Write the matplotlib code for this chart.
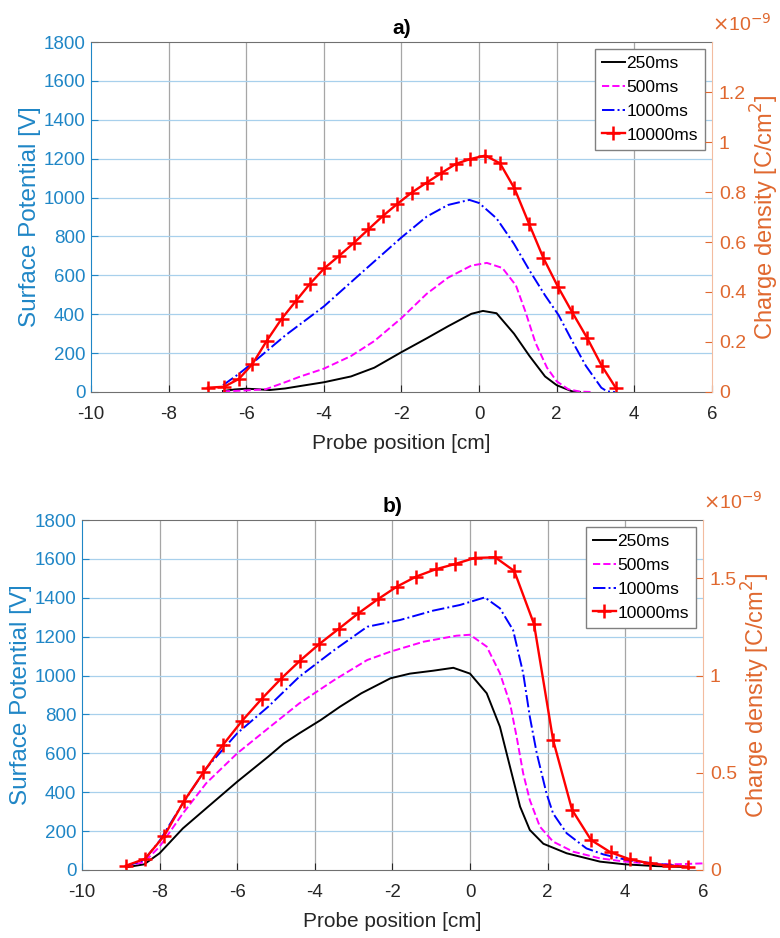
import matplotlib
matplotlib.use("Agg")
import matplotlib.pyplot as plt
from matplotlib.ticker import FixedLocator, FuncFormatter

plt.rcParams['font.family'] = ['Liberation Sans', 'DejaVu Sans']
plt.rcParams['axes.unicode_minus'] = False

# ---- panel a) ----
x_a_250 = [-6.6, -6.3, -6.0, -5.7, -5.4, -5.0, -4.6, -4.0, -3.3, -2.7, -2.0, -1.35,
           -0.8, -0.2, 0.1, 0.45, 0.9, 1.3, 1.7, 2.0, 2.4, 2.6]
y_a_250 = [5, 13, 17, 14, 10, 18, 31, 50, 80, 125, 205, 276,
           338, 402, 417, 405, 300, 185, 80, 35, 3, 0]

x_a_500 = [-6.6, -6.0, -5.5, -5.0, -4.6, -4.0, -3.3, -2.7, -2.0, -1.35, -0.8, -0.2,
           0.2, 0.6, 0.95, 1.2, 1.45, 1.75, 2.0, 2.3, 2.6, 2.9]
y_a_500 = [3, 8, 14, 50, 80, 120, 185, 262, 380, 505, 588, 650,
           664, 638, 548, 410, 255, 125, 55, 14, 2, 0]

x_a_1000 = [-6.6, -6.2, -5.85, -5.0, -4.0, -2.9, -2.0, -1.35, -0.8, -0.25, 0.0, 0.45,
            0.9, 1.3, 1.7, 2.05, 2.4, 2.75, 3.15, 3.3, 3.5]
y_a_1000 = [35, 92, 147, 290, 440, 636, 795, 902, 962, 988, 972, 893,
            762, 625, 497, 395, 262, 135, 22, 3, 0]

x_a_10000 = [-6.99, -6.57, -6.19, -5.84, -5.47, -5.09, -4.72, -4.36, -3.99, -3.61,
             -3.22, -2.85, -2.47, -2.11, -1.74, -1.35, -0.98, -0.60, -0.23, 0.16,
             0.54, 0.91, 1.29, 1.66, 2.03, 2.40, 2.79, 3.16, 3.53]
y_a_10000 = [22, 27, 67, 144, 264, 376, 468, 556, 636, 700,
             768, 837, 907, 967, 1025, 1077, 1125, 1173, 1198, 1216,
             1176, 1048, 864, 688, 542, 410, 276, 135, 19]

# ---- panel b) ----
x_b_250 = [-8.87, -8.4, -8.0, -7.4, -6.8, -6.0, -5.2, -4.8, -4.4, -3.85, -3.35, -2.8,
           -2.05, -1.55, -0.95, -0.43, 0.0, 0.43, 0.77, 1.03, 1.29, 1.54, 1.89, 2.49,
           3.35, 4.0, 4.8, 5.6]
y_b_250 = [14, 29, 86, 214, 317, 454, 583, 651, 703, 771, 840, 909,
           986, 1010, 1025, 1040, 1010, 909, 737, 531, 326, 206, 135, 86,
           43, 29, 20, 15]

x_b_500 = [-8.87, -8.4, -8.0, -7.4, -6.8, -6.0, -5.2, -4.4, -3.5, -2.65, -2.05, -1.2,
           -0.35, 0.0, 0.43, 0.77, 1.03, 1.2, 1.37, 1.54, 1.8, 2.14, 2.66, 3.35,
           4.0, 4.8, 5.4, 6.0]
y_b_500 = [20, 40, 120, 291, 446, 600, 729, 857, 977, 1080, 1123, 1174,
           1205, 1210, 1149, 1012, 857, 686, 497, 360, 223, 146, 94, 60,
           43, 30, 30, 34]

x_b_1000 = [-8.87, -8.4, -8.0, -7.4, -6.8, -6.0, -5.2, -4.4, -3.5, -2.65, -1.8, -0.95,
            -0.26, 0.38, 0.77, 1.11, 1.37, 1.54, 1.72, 1.97, 2.14, 2.49, 3.0, 3.44,
            4.12, 4.98, 5.67]
y_b_1000 = [20, 50, 150, 343, 523, 703, 840, 994, 1131, 1251, 1286, 1334,
            1363, 1402, 1346, 1234, 1012, 789, 600, 394, 291, 189, 111, 80,
            48, 29, 15]

x_b_10000 = [-8.87, -8.38, -7.88, -7.37, -6.87, -6.37, -5.87, -5.37, -4.87, -4.38,
             -3.88, -3.38, -2.88, -2.38, -1.89, -1.39, -0.88, -0.38, 0.12, 0.65,
             1.14, 1.65, 2.14, 2.63, 3.12, 3.62, 4.12, 4.63, 5.12, 5.62]
y_b_10000 = [22, 57, 176, 355, 502, 643, 768, 880, 984, 1077,
             1163, 1241, 1320, 1392, 1457, 1509, 1547, 1574, 1605, 1608,
             1538, 1264, 669, 309, 154, 91, 55, 34, 22, 17]

series_labels = ['250ms', '500ms', '1000ms', '10000ms']
x_ticks = [-10, -8, -6, -4, -2, 0, 2, 4, 6]
y_ticks = [0, 200, 400, 600, 800, 1000, 1200, 1400, 1600, 1800]
charge_ticks_a = [0, 0.2e-9, 0.4e-9, 0.6e-9, 0.8e-9, 1.0e-9, 1.2e-9]
charge_ticks_b = [0, 0.5e-9, 1.0e-9, 1.5e-9]
charge_max_a = 1.4e-9
charge_max_b = 1.8e-9

BLUE = '#1f86c6'
ORANGE = '#e0682f'
DARK = '#262626'
HGRID = '#a8d0ec'
VGRID = '#a6a6a6'

fig = plt.figure(figsize=(7.8, 9.38), dpi=100)


def draw_panel(rect, title, xs, ys, cticks, cmax):
    ax = fig.add_axes(rect)
    styles = [dict(color='black', ls='-', lw=1.4),
              dict(color='#ff00ff', ls='--', lw=1.4),
              dict(color='#0000ff', ls='-.', lw=1.4),
              dict(color='#ff0000', ls='-', lw=1.7, marker='+', ms=10, mew=1.8)]
    for x, y, st, lab in zip(xs, ys, styles, series_labels):
        ax.plot(x, y, label=lab, **st)

    ax.set_xlim(-10, 6)
    ax.set_ylim(0, 1800)
    ax.xaxis.set_major_locator(FixedLocator(x_ticks))
    ax.yaxis.set_major_locator(FixedLocator(y_ticks))
    ax.tick_params(axis='both', direction='in', length=5, labelsize=13.5)
    ax.tick_params(axis='x', colors=DARK, labelcolor=DARK, pad=10)
    ax.tick_params(axis='y', colors=BLUE, labelcolor=BLUE, pad=4)

    ax.grid(False)
    for v in x_ticks[1:-1]:
        ax.axvline(v, color=VGRID, lw=0.9, zorder=0)
    for h in y_ticks[1:-1]:
        ax.axhline(h, color=HGRID, lw=0.9, zorder=0)

    ax.spines['left'].set_color(BLUE)
    ax.spines['right'].set_visible(False)
    ax.spines['top'].set_color('#707070')
    ax.spines['bottom'].set_color('#707070')

    ax.set_xlabel('Probe position [cm]', fontsize=15, color=DARK, labelpad=8)
    ax.set_ylabel('Surface Potential [V]', fontsize=17.5, color=BLUE, labelpad=2)
    ax.set_title(title, fontsize=15, fontweight='bold', color='black', pad=6)

    leg = ax.legend(loc='upper right', fontsize=12.5, frameon=True, fancybox=False,
                    framealpha=1, edgecolor='#808080', handlelength=1.3,
                    handletextpad=0.1, labelspacing=0.5, borderpad=0.4,
                    borderaxespad=0.4)
    leg.get_frame().set_linewidth(1.0)

    # charge density axis
    ax2 = ax.twinx()
    ax2.set_ylim(0, cmax)
    ax2.yaxis.set_major_locator(FixedLocator(cticks))
    ax2.yaxis.set_major_formatter(FuncFormatter(lambda v, p: f"{v / 1e-9:g}"))
    ax2.tick_params(axis='y', direction='in', length=5, labelsize=14,
                    colors=ORANGE, labelcolor=ORANGE, pad=5)
    for s in ('left', 'top', 'bottom'):
        ax2.spines[s].set_visible(False)
    ax2.spines['right'].set_color('#f3bca0')
    ax2.set_ylabel('Charge density [C/cm$^2$]', fontsize=17, color=ORANGE)
    ax2.yaxis.label.set_verticalalignment('center')
    ax2.yaxis.set_label_coords(1.085, 0.5)
    ax2.text(1.0, 1.02, r'$\times$10$^{-9}$', transform=ax2.transAxes,
             ha='left', va='bottom', fontsize=14, color=ORANGE)
    return ax


draw_panel([0.1167, 0.5821, 0.796, 0.3731], 'a)',
           [x_a_250, x_a_500, x_a_1000, x_a_10000],
           [y_a_250, y_a_500, y_a_1000, y_a_10000],
           charge_ticks_a, charge_max_a)

draw_panel([0.1051, 0.0725, 0.796, 0.3731], 'b)',
           [x_b_250, x_b_500, x_b_1000, x_b_10000],
           [y_b_250, y_b_500, y_b_1000, y_b_10000],
           charge_ticks_b, charge_max_b)

fig.savefig('out.png', dpi=100, facecolor='white')
